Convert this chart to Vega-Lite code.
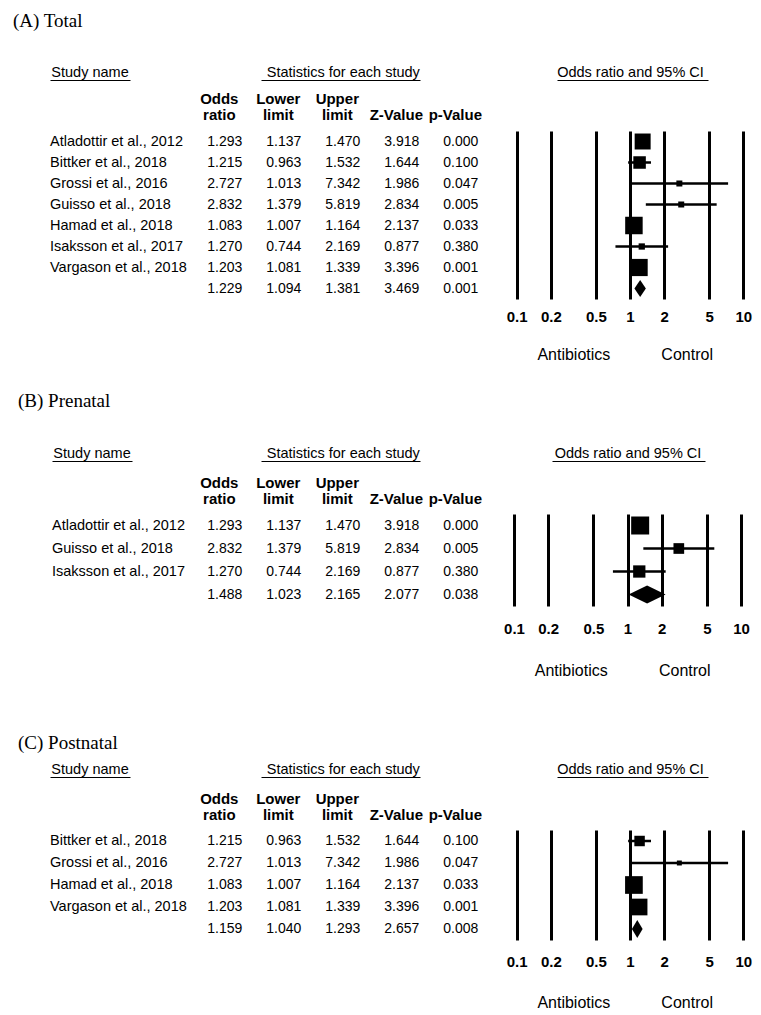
{
  "$schema": "https://vega.github.io/schema/vega-lite/v6.json",
  "background": "white",
  "padding": {"left": 0, "top": 12, "right": 0, "bottom": 0},
  "config": {
    "font": "Liberation Sans",
    "view": {"stroke": null, "fill": "white"},
    "axis": {"domainColor": "black", "labelColor": "black", "titleColor": "black", "tickColor": "black", "labelFont": "Liberation Sans", "titleFont": "Liberation Sans"},
    "text": {"color": "black"}
  },
  "datasets": {
    "total": [
      {"study": "Atladottir et al., 2012", "kind": "study", "or": 1.293, "lower": 1.137, "upper": 1.470, "z": 3.918, "p": 0.000, "weight": 22.7},
      {"study": "Bittker et al., 2018", "kind": "study", "or": 1.215, "lower": 0.963, "upper": 1.532, "z": 1.644, "p": 0.100, "weight": 13.9},
      {"study": "Grossi et al., 2016", "kind": "study", "or": 2.727, "lower": 1.013, "upper": 7.342, "z": 1.986, "p": 0.047, "weight": 3.2},
      {"study": "Guisso et al., 2018", "kind": "study", "or": 2.832, "lower": 1.379, "upper": 5.819, "z": 2.834, "p": 0.005, "weight": 3.2},
      {"study": "Hamad et al., 2018", "kind": "study", "or": 1.083, "lower": 1.007, "upper": 1.164, "z": 2.137, "p": 0.033, "weight": 27.2},
      {"study": "Isaksson et al., 2017", "kind": "study", "or": 1.270, "lower": 0.744, "upper": 2.169, "z": 0.877, "p": 0.380, "weight": 3.5},
      {"study": "Vargason et al., 2018", "kind": "study", "or": 1.203, "lower": 1.081, "upper": 1.339, "z": 3.396, "p": 0.001, "weight": 26.3},
      {"study": "Pooled", "kind": "pooled", "or": 1.229, "lower": 1.094, "upper": 1.381, "z": 3.469, "p": 0.001}
    ],
    "prenatal": [
      {"study": "Atladottir et al., 2012", "kind": "study", "or": 1.293, "lower": 1.137, "upper": 1.470, "z": 3.918, "p": 0.000, "weight": 55.0},
      {"study": "Guisso et al., 2018", "kind": "study", "or": 2.832, "lower": 1.379, "upper": 5.819, "z": 2.834, "p": 0.005, "weight": 19.4},
      {"study": "Isaksson et al., 2017", "kind": "study", "or": 1.270, "lower": 0.744, "upper": 2.169, "z": 0.877, "p": 0.380, "weight": 25.6},
      {"study": "Pooled", "kind": "pooled", "or": 1.488, "lower": 1.023, "upper": 2.165, "z": 2.077, "p": 0.038}
    ],
    "postnatal": [
      {"study": "Bittker et al., 2018", "kind": "study", "or": 1.215, "lower": 0.963, "upper": 1.532, "z": 1.644, "p": 0.100, "weight": 15.1},
      {"study": "Grossi et al., 2016", "kind": "study", "or": 2.727, "lower": 1.013, "upper": 7.342, "z": 1.986, "p": 0.047, "weight": 3.4},
      {"study": "Hamad et al., 2018", "kind": "study", "or": 1.083, "lower": 1.007, "upper": 1.164, "z": 2.137, "p": 0.033, "weight": 43.1},
      {"study": "Vargason et al., 2018", "kind": "study", "or": 1.203, "lower": 1.081, "upper": 1.339, "z": 3.396, "p": 0.001, "weight": 38.4},
      {"study": "Pooled", "kind": "pooled", "or": 1.159, "lower": 1.040, "upper": 1.293, "z": 2.657, "p": 0.008}
    ]
  },
  "bounds": "flush",
  "spacing": 215,
  "vconcat": [
    {
      "data": {"name": "total"},
      "width": 761,
      "height": 168,
      "title": {"text": "(A) Total", "anchor": "start", "frame": "group", "dx": 13, "offset": 33, "font": "Liberation Serif", "fontSize": 19, "fontWeight": "normal", "color": "black"},
      "resolve": {"scale": {"x": "independent", "size": "independent"}, "axis": {"x": "independent"}},
      "encoding": {
        "y": {"field": "study", "type": "nominal", "axis": null,
              "scale": {"type": "point", "padding": 0.5, "domain": ["Atladottir et al., 2012", "Bittker et al., 2018", "Grossi et al., 2016", "Guisso et al., 2018", "Hamad et al., 2018", "Isaksson et al., 2017", "Vargason et al., 2018", "Pooled"]}}
      },
      "layer": [
        {
          "transform": [{"filter": "datum.kind == 'study'"}],
          "mark": {"type": "text", "align": "left", "baseline": "middle", "fontSize": 14.5},
          "encoding": {
            "x": {"datum": "Study name", "type": "nominal", "bandPosition": 0,
                  "scale": {"type": "band", "domain": ["Study name"], "range": [50, 130], "paddingInner": 0, "paddingOuter": 0},
                  "axis": {"orient": "top", "offset": 51, "ticks": false, "tickSize": 0, "labelPadding": 1, "labelAlign": "center", "labelAngle": 0, "labelFontSize": 14.5, "domain": true, "domainWidth": 1, "title": null}},
            "text": {"field": "study"}
          }
        },
        {
          "transform": [{"fold": ["or", "lower", "upper", "z", "p"], "as": ["stat", "val"]}],
          "resolve": {"axis": {"x": "independent"}},
          "layer": [
            {
              "transform": [{"filter": "datum.kind == 'study'"}],
              "mark": {"type": "text", "align": "center", "baseline": "middle", "fontSize": 14},
              "encoding": {
                "x": {"field": "stat", "type": "nominal",
                      "scale": {"type": "point", "domain": ["or", "lower", "upper", "z", "p"], "range": [224.8, 460.8], "padding": 0},
                      "axis": {"orient": "top", "offset": 25, "domain": false, "ticks": false, "tickSize": 0, "labelPadding": 0, "labelAngle": 0, "labelOffset": -6, "labelFontSize": 15, "labelFontWeight": "bold", "labelLineHeight": 16, "labelOverlap": false, "title": null,
                               "labelExpr": "datum.value == 'or' ? ['Odds', 'ratio'] : datum.value == 'lower' ? ['Lower', 'limit'] : datum.value == 'upper' ? ['Upper', 'limit'] : datum.value == 'z' ? ['', 'Z-Value'] : ['', 'p-Value']"}},
                "text": {"field": "val", "type": "quantitative", "format": ".3f"}
              }
            },
            {
              "transform": [{"filter": "datum.kind == 'pooled'"}],
              "mark": {"type": "text", "align": "center", "baseline": "middle", "fontSize": 14},
              "encoding": {
                "x": {"field": "stat", "type": "nominal",
                      "scale": {"type": "point", "domain": ["or", "lower", "upper", "z", "p"], "range": [224.8, 460.8], "padding": 0},
                      "axis": {"orient": "top", "offset": 51, "labels": false, "ticks": false, "tickSize": 0, "domain": true, "domainWidth": 1, "domainDash": [0, 36.2, 159, 400], "title": "Statistics for each study", "titleFontSize": 14.5, "titleFontWeight": "normal", "titlePadding": 1}},
                "text": {"field": "val", "type": "quantitative", "format": ".3f"}
              }
            }
          ]
        },
        {
          "resolve": {"axis": {"x": "independent"}, "scale": {"size": "independent"}},
          "layer": [
            {
              "transform": [{"filter": "datum.kind == 'study'"}],
              "mark": {"type": "rule", "color": "black", "strokeWidth": 2.5},
              "encoding": {
                "x": {"field": "lower", "type": "quantitative",
                      "scale": {"type": "log", "domain": [0.1, 10], "range": [516.7, 743.3], "nice": false},
                      "axis": {"orient": "bottom", "values": [0.1, 0.2, 0.5, 1, 2, 5, 10], "format": "~g", "grid": true, "gridColor": "black", "gridWidth": 3, "gridOpacity": 1, "domain": false, "ticks": false, "tickSize": 0, "labelPadding": 10.4, "labelFontSize": 15, "labelFontWeight": "bold", "labelFlush": false, "labelOverlap": false, "title": null}},
                "x2": {"field": "upper"}
              }
            },
            {
              "transform": [{"filter": "datum.kind == 'study'"}],
              "mark": {"type": "square", "color": "black", "filled": true, "opacity": 1},
              "encoding": {
                "x": {"field": "or", "type": "quantitative",
                      "scale": {"type": "log", "domain": [0.1, 10], "range": [516.7, 743.3], "nice": false},
                      "axis": {"orient": "top", "offset": 51, "labels": false, "ticks": false, "tickSize": 0, "grid": false, "domain": true, "domainWidth": 1, "domainDash": [0, 40.3, 151, 400], "title": "Odds ratio and 95% CI", "titleFontSize": 14.5, "titleFontWeight": "normal", "titlePadding": 1}},
                "size": {"field": "weight", "type": "quantitative", "scale": {"range": [0, 306]}, "legend": null}
              }
            },
            {
              "transform": [{"filter": "datum.kind == 'pooled'"}],
              "mark": {"type": "point", "shape": "M-0.673,0L0,-1L0.673,0L0,1Z", "size": 289, "filled": true, "color": "black", "opacity": 1},
              "encoding": {
                "x": {"field": "or", "type": "quantitative",
                      "scale": {"type": "log", "domain": [0.1, 10], "range": [516.7, 743.3], "nice": false},
                      "axis": {"orient": "bottom", "offset": 47, "values": [0.31623, 3.1623], "labelExpr": "datum.value < 1 ? 'Antibiotics' : 'Control'", "grid": false, "domain": false, "ticks": false, "tickSize": 0, "labelPadding": 0, "labelFontSize": 16, "labelFontWeight": "normal", "labelFlush": false, "labelOverlap": false, "title": null}}
              }
            }
          ]
        }
      ]
    },
    {
      "bounds": "flush",
      "spacing": 224,
      "vconcat": [
        {
          "data": {"name": "prenatal"},
          "width": 761,
          "height": 92,
          "title": {"text": "(B) Prenatal", "anchor": "start", "frame": "group", "dx": 18, "offset": 34, "font": "Liberation Serif", "fontSize": 19, "fontWeight": "normal", "color": "black"},
          "resolve": {"scale": {"x": "independent", "size": "independent"}, "axis": {"x": "independent"}},
          "encoding": {
            "y": {"field": "study", "type": "nominal", "axis": null,
                  "scale": {"type": "point", "padding": 0.5, "domain": ["Atladottir et al., 2012", "Guisso et al., 2018", "Isaksson et al., 2017", "Pooled"]}}
          },
          "layer": [
            {
              "transform": [{"filter": "datum.kind == 'study'"}],
              "mark": {"type": "text", "align": "left", "baseline": "middle", "fontSize": 14.5},
              "encoding": {
                "x": {"datum": "Study name", "type": "nominal", "bandPosition": 0,
                      "scale": {"type": "band", "domain": ["Study name"], "range": [52, 132], "paddingInner": 0, "paddingOuter": 0},
                      "axis": {"orient": "top", "offset": 53, "ticks": false, "tickSize": 0, "labelPadding": 1, "labelAlign": "center", "labelAngle": 0, "labelFontSize": 14.5, "domain": true, "domainWidth": 1, "title": null}},
                "text": {"field": "study"}
              }
            },
            {
              "transform": [{"fold": ["or", "lower", "upper", "z", "p"], "as": ["stat", "val"]}],
              "resolve": {"axis": {"x": "independent"}},
              "layer": [
                {
                  "transform": [{"filter": "datum.kind == 'study'"}],
                  "mark": {"type": "text", "align": "center", "baseline": "middle", "fontSize": 14},
                  "encoding": {
                    "x": {"field": "stat", "type": "nominal",
                          "scale": {"type": "point", "domain": ["or", "lower", "upper", "z", "p"], "range": [224.8, 460.8], "padding": 0},
                          "axis": {"orient": "top", "offset": 24, "domain": false, "ticks": false, "tickSize": 0, "labelPadding": 0, "labelAngle": 0, "labelOffset": -6, "labelFontSize": 15, "labelFontWeight": "bold", "labelLineHeight": 16, "labelOverlap": false, "title": null,
                                   "labelExpr": "datum.value == 'or' ? ['Odds', 'ratio'] : datum.value == 'lower' ? ['Lower', 'limit'] : datum.value == 'upper' ? ['Upper', 'limit'] : datum.value == 'z' ? ['', 'Z-Value'] : ['', 'p-Value']"}},
                    "text": {"field": "val", "type": "quantitative", "format": ".3f"}
                  }
                },
                {
                  "transform": [{"filter": "datum.kind == 'pooled'"}],
                  "mark": {"type": "text", "align": "center", "baseline": "middle", "fontSize": 14},
                  "encoding": {
                    "x": {"field": "stat", "type": "nominal",
                          "scale": {"type": "point", "domain": ["or", "lower", "upper", "z", "p"], "range": [224.8, 460.8], "padding": 0},
                          "axis": {"orient": "top", "offset": 53, "labels": false, "ticks": false, "tickSize": 0, "domain": true, "domainWidth": 1, "domainDash": [0, 36.2, 159, 400], "title": "Statistics for each study", "titleFontSize": 14.5, "titleFontWeight": "normal", "titlePadding": 1}},
                    "text": {"field": "val", "type": "quantitative", "format": ".3f"}
                  }
                }
              ]
            },
            {
              "resolve": {"axis": {"x": "independent"}, "scale": {"size": "independent"}},
              "layer": [
                {
                  "transform": [{"filter": "datum.kind == 'study'"}],
                  "mark": {"type": "rule", "color": "black", "strokeWidth": 2.5},
                  "encoding": {
                    "x": {"field": "lower", "type": "quantitative",
                          "scale": {"type": "log", "domain": [0.1, 10], "range": [514, 741], "nice": false},
                          "axis": {"orient": "bottom", "values": [0.1, 0.2, 0.5, 1, 2, 5, 10], "format": "~g", "grid": true, "gridColor": "black", "gridWidth": 3, "gridOpacity": 1, "domain": false, "ticks": false, "tickSize": 0, "labelPadding": 15.4, "labelFontSize": 15, "labelFontWeight": "bold", "labelFlush": false, "labelOverlap": false, "title": null}},
                    "x2": {"field": "upper"}
                  }
                },
                {
                  "transform": [{"filter": "datum.kind == 'study'"}],
                  "mark": {"type": "square", "color": "black", "filled": true, "opacity": 1},
                  "encoding": {
                    "x": {"field": "or", "type": "quantitative",
                          "scale": {"type": "log", "domain": [0.1, 10], "range": [514, 741], "nice": false},
                          "axis": {"orient": "top", "offset": 53, "labels": false, "ticks": false, "tickSize": 0, "grid": false, "domain": true, "domainWidth": 1, "domainDash": [0, 38, 153, 400], "title": "Odds ratio and 95% CI", "titleFontSize": 14.5, "titleFontWeight": "normal", "titlePadding": 1}},
                    "size": {"field": "weight", "type": "quantitative", "scale": {"range": [0, 324]}, "legend": null}
                  }
                },
                {
                  "transform": [{"filter": "datum.kind == 'pooled'"}],
                  "mark": {"type": "point", "shape": "M-2.056,0L0,-1L2.056,0L0,1Z", "size": 324, "filled": true, "color": "black", "opacity": 1},
                  "encoding": {
                    "x": {"field": "or", "type": "quantitative",
                          "scale": {"type": "log", "domain": [0.1, 10], "range": [514, 741], "nice": false},
                          "axis": {"orient": "bottom", "offset": 56, "values": [0.31623, 3.1623], "labelExpr": "datum.value < 1 ? 'Antibiotics' : 'Control'", "grid": false, "domain": false, "ticks": false, "tickSize": 0, "labelPadding": 0, "labelFontSize": 16, "labelFontWeight": "normal", "labelFlush": false, "labelOverlap": false, "title": null}}
                  }
                }
              ]
            }
          ]
        },
        {
          "data": {"name": "postnatal"},
          "width": 761,
          "height": 110,
          "title": {"text": "(C) Postnatal", "anchor": "start", "frame": "group", "dx": 18, "offset": 8, "font": "Liberation Serif", "fontSize": 19, "fontWeight": "normal", "color": "black"},
          "resolve": {"scale": {"x": "independent", "size": "independent"}, "axis": {"x": "independent"}},
          "encoding": {
            "y": {"field": "study", "type": "nominal", "axis": null,
                  "scale": {"type": "point", "padding": 0.5, "domain": ["Bittker et al., 2018", "Grossi et al., 2016", "Hamad et al., 2018", "Vargason et al., 2018", "Pooled"]}}
          },
          "layer": [
            {
              "transform": [{"filter": "datum.kind == 'study'"}],
              "mark": {"type": "text", "align": "left", "baseline": "middle", "fontSize": 14.5},
              "encoding": {
                "x": {"datum": "Study name", "type": "nominal", "bandPosition": 0,
                      "scale": {"type": "band", "domain": ["Study name"], "range": [50, 130], "paddingInner": 0, "paddingOuter": 0},
                      "axis": {"orient": "top", "offset": 53, "ticks": false, "tickSize": 0, "labelPadding": 1, "labelAlign": "center", "labelAngle": 0, "labelFontSize": 14.5, "domain": true, "domainWidth": 1, "title": null}},
                "text": {"field": "study"}
              }
            },
            {
              "transform": [{"fold": ["or", "lower", "upper", "z", "p"], "as": ["stat", "val"]}],
              "resolve": {"axis": {"x": "independent"}},
              "layer": [
                {
                  "transform": [{"filter": "datum.kind == 'study'"}],
                  "mark": {"type": "text", "align": "center", "baseline": "middle", "fontSize": 14},
                  "encoding": {
                    "x": {"field": "stat", "type": "nominal",
                          "scale": {"type": "point", "domain": ["or", "lower", "upper", "z", "p"], "range": [224.8, 460.8], "padding": 0},
                          "axis": {"orient": "top", "offset": 24, "domain": false, "ticks": false, "tickSize": 0, "labelPadding": 0, "labelAngle": 0, "labelOffset": -6, "labelFontSize": 15, "labelFontWeight": "bold", "labelLineHeight": 16, "labelOverlap": false, "title": null,
                                   "labelExpr": "datum.value == 'or' ? ['Odds', 'ratio'] : datum.value == 'lower' ? ['Lower', 'limit'] : datum.value == 'upper' ? ['Upper', 'limit'] : datum.value == 'z' ? ['', 'Z-Value'] : ['', 'p-Value']"}},
                    "text": {"field": "val", "type": "quantitative", "format": ".3f"}
                  }
                },
                {
                  "transform": [{"filter": "datum.kind == 'pooled'"}],
                  "mark": {"type": "text", "align": "center", "baseline": "middle", "fontSize": 14},
                  "encoding": {
                    "x": {"field": "stat", "type": "nominal",
                          "scale": {"type": "point", "domain": ["or", "lower", "upper", "z", "p"], "range": [224.8, 460.8], "padding": 0},
                          "axis": {"orient": "top", "offset": 53, "labels": false, "ticks": false, "tickSize": 0, "domain": true, "domainWidth": 1, "domainDash": [0, 36.2, 159, 400], "title": "Statistics for each study", "titleFontSize": 14.5, "titleFontWeight": "normal", "titlePadding": 1}},
                    "text": {"field": "val", "type": "quantitative", "format": ".3f"}
                  }
                }
              ]
            },
            {
              "resolve": {"axis": {"x": "independent"}, "scale": {"size": "independent"}},
              "layer": [
                {
                  "transform": [{"filter": "datum.kind == 'study'"}],
                  "mark": {"type": "rule", "color": "black", "strokeWidth": 2.5},
                  "encoding": {
                    "x": {"field": "lower", "type": "quantitative",
                          "scale": {"type": "log", "domain": [0.1, 10], "range": [516.7, 743.3], "nice": false},
                          "axis": {"orient": "bottom", "values": [0.1, 0.2, 0.5, 1, 2, 5, 10], "format": "~g", "grid": true, "gridColor": "black", "gridWidth": 3, "gridOpacity": 1, "domain": false, "ticks": false, "tickSize": 0, "labelPadding": 14.4, "labelFontSize": 15, "labelFontWeight": "bold", "labelFlush": false, "labelOverlap": false, "title": null}},
                    "x2": {"field": "upper"}
                  }
                },
                {
                  "transform": [{"filter": "datum.kind == 'study'"}],
                  "mark": {"type": "square", "color": "black", "filled": true, "opacity": 1},
                  "encoding": {
                    "x": {"field": "or", "type": "quantitative",
                          "scale": {"type": "log", "domain": [0.1, 10], "range": [516.7, 743.3], "nice": false},
                          "axis": {"orient": "top", "offset": 53, "labels": false, "ticks": false, "tickSize": 0, "grid": false, "domain": true, "domainWidth": 1, "domainDash": [0, 40.3, 151, 400], "title": "Odds ratio and 95% CI", "titleFontSize": 14.5, "titleFontWeight": "normal", "titlePadding": 1}},
                    "size": {"field": "weight", "type": "quantitative", "scale": {"range": [0, 313]}, "legend": null}
                  }
                },
                {
                  "transform": [{"filter": "datum.kind == 'pooled'"}],
                  "mark": {"type": "point", "shape": "M-0.594,0L0,-1L0.594,0L0,1Z", "size": 324, "filled": true, "color": "black", "opacity": 1},
                  "encoding": {
                    "x": {"field": "or", "type": "quantitative",
                          "scale": {"type": "log", "domain": [0.1, 10], "range": [516.7, 743.3], "nice": false},
                          "axis": {"orient": "bottom", "offset": 54, "values": [0.31623, 3.1623], "labelExpr": "datum.value < 1 ? 'Antibiotics' : 'Control'", "grid": false, "domain": false, "ticks": false, "tickSize": 0, "labelPadding": 0, "labelFontSize": 16, "labelFontWeight": "normal", "labelFlush": false, "labelOverlap": false, "title": null}}
                  }
                }
              ]
            }
          ]
        }
      ]
    }
  ]
}
